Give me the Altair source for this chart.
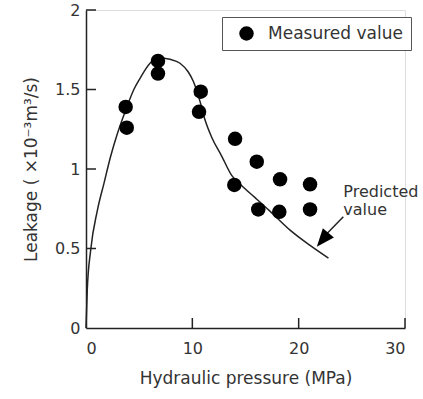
import altair as alt
import pandas as pd

# measured points
meas_x = [3.73, 3.83, 6.77, 6.77, 10.79, 10.63, 14.02, 13.95, 16.06, 16.2, 18.25, 18.18, 21.07, 21.07]
meas_y = [1.39, 1.26, 1.68, 1.60, 1.486, 1.36, 1.19, 0.90, 1.046, 0.746, 0.935, 0.731, 0.904, 0.746]

# predicted curve
pred_x = [0, 0.12, 0.44, 1.07, 1.69, 2.32, 2.94, 3.73, 4.5, 5.08, 6.02, 6.8, 7.9, 8.84, 9.62,
          10.1, 10.7, 11.19, 11.82, 12.77, 13.7, 14.65, 15.9, 17.3, 19.19, 21.07, 22.8]
pred_y = [0, 0.24, 0.49, 0.74, 0.91, 1.08, 1.22, 1.37, 1.50, 1.57, 1.665, 1.70, 1.69, 1.665, 1.61,
          1.55, 1.43, 1.31, 1.20, 1.08, 0.96, 0.895, 0.82, 0.735, 0.616, 0.52, 0.44]

x_ticks = [0, 10, 20, 30]
y_ticks = [0, 0.5, 1, 1.5, 2]

# annotation
arrow_x = [24.2, 22.6]
arrow_y = [0.70, 0.59]
head_x = [22.25]
head_y = [0.555]
note_lines = ["Predicted", "value"]
note_x = [24.2, 24.2]
note_y = [0.824, 0.711]

FONT = "DejaVu Sans"
TXT = "#333333"

meas = pd.DataFrame({"x": meas_x, "y": meas_y, "s": "Measured value"})
pred = pd.DataFrame({"x": pred_x, "y": pred_y})
xt = pd.DataFrame({"v": x_ticks[1:]})
yt = pd.DataFrame({"v": y_ticks[1:]})
arrow = pd.DataFrame({"x": [arrow_x[0]], "y": [arrow_y[0]], "x2": [arrow_x[1]], "y2": [arrow_y[1]]})
head = pd.DataFrame({"x": head_x, "y": head_y})
notes = pd.DataFrame({"x": note_x, "y": note_y, "t": note_lines})

xs = alt.Scale(domain=[0, 30], nice=False)
ys = alt.Scale(domain=[0, 2], nice=False)

xax = alt.Axis(values=x_ticks, grid=False, ticks=False, tickSize=0, labelPadding=12, format="~g",
               domainColor="#222", domainWidth=1.5, labelFont=FONT, labelFontSize=16,
               labelColor=TXT, title="Hydraulic pressure (MPa)", titleFont=FONT,
               titleFontSize=17, titleFontWeight="normal", titleColor=TXT, titlePadding=14)
yax = alt.Axis(values=y_ticks, grid=False, ticks=False, tickSize=0, labelPadding=6, format="~g",
               domainColor="#222", domainWidth=1.5, labelFont=FONT, labelFontSize=16,
               labelColor=TXT, title="Leakage ( ×10⁻³m³/s)", titleFont=FONT,
               titleFontSize=17, titleFontWeight="normal", titleColor=TXT, titlePadding=14)

curve = alt.Chart(pred).mark_line(color="#222", strokeWidth=1.5, interpolate="monotone").encode(
    x=alt.X("x:Q", scale=xs, axis=xax),
    y=alt.Y("y:Q", scale=ys, axis=yax),
)

points = alt.Chart(meas).mark_point(filled=True, size=210, opacity=1, shape="circle").encode(
    x=alt.X("x:Q", scale=xs),
    y=alt.Y("y:Q", scale=ys),
    color=alt.Color("s:N", scale=alt.Scale(range=["black"]),
                    legend=alt.Legend(title=None, orient="none", legendX=136, legendY=7,
                                      strokeColor="#555", fillColor="white", padding=8,
                                      labelFont=FONT, labelFontSize=17, labelColor=TXT,
                                      symbolSize=210, symbolType="circle", symbolStrokeWidth=0,
                                      symbolOffset=8, labelOffset=13,
                                      labelExpr="datum.label + '\u00a0\u00a0'")),
)

xtick = alt.Chart(xt).mark_rule(color="#222", strokeWidth=1.5).encode(
    x=alt.X("v:Q", scale=xs), y=alt.value(318), y2=alt.value(308))
ytick = alt.Chart(yt).mark_rule(color="#222", strokeWidth=1.5).encode(
    y=alt.Y("v:Q", scale=ys), x=alt.value(0), x2=alt.value(10))

arr = alt.Chart(arrow).mark_rule(color="#222", strokeWidth=1.5).encode(
    x=alt.X("x:Q", scale=xs), y=alt.Y("y:Q", scale=ys), x2="x2:Q", y2="y2:Q")
arrhead = alt.Chart(head).mark_point(filled=True, opacity=1, color="black",
                                     shape="M0,-1L0.8,1L-0.8,1Z", size=324, angle=220).encode(
    x=alt.X("x:Q", scale=xs), y=alt.Y("y:Q", scale=ys))

note = alt.Chart(notes).mark_text(align="left", baseline="alphabetic", font=FONT, fontSize=16,
                                  color=TXT).encode(
    x=alt.X("x:Q", scale=xs), y=alt.Y("y:Q", scale=ys), text="t:N")

chart = alt.layer(curve, points, xtick, ytick, arr, arrhead, note).properties(
    width=319, height=318, autosize="none",
    padding={"left": 86, "top": 10, "right": 18, "bottom": 71},
).configure_view(stroke=None).configure(background="white")

chart.save("out.html", embed_options={"renderer": "svg", "actions": False})
